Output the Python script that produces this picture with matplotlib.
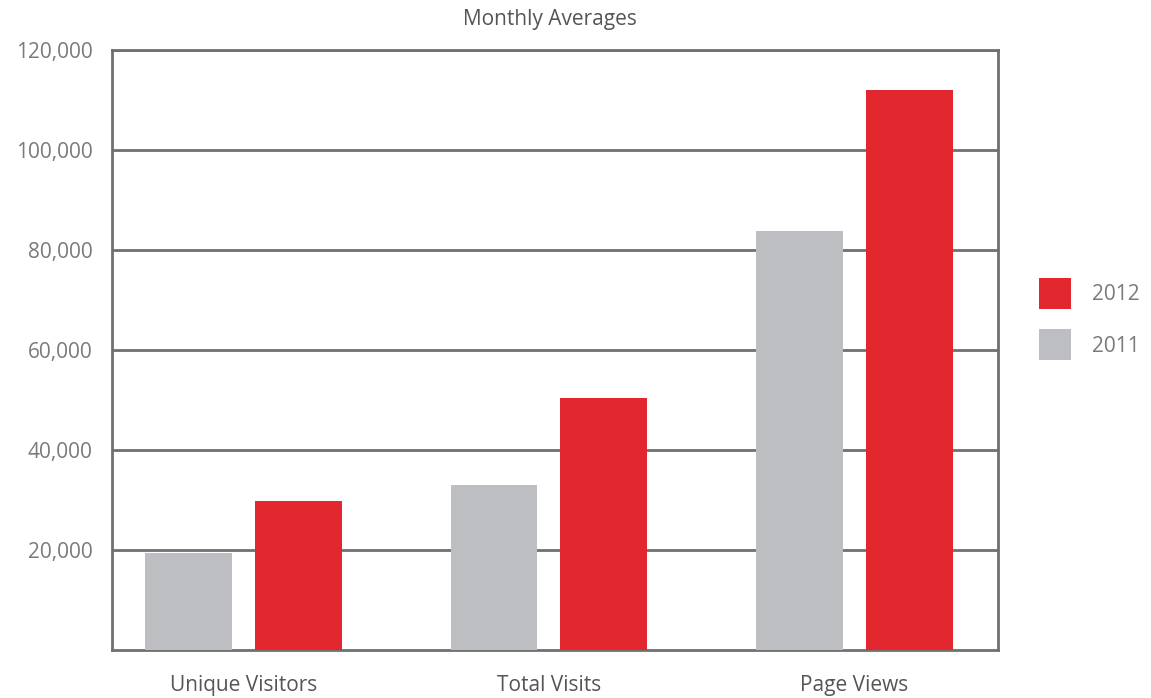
import matplotlib
matplotlib.use("Agg")
import matplotlib.pyplot as plt
import numpy as np
from matplotlib.patches import Patch

categories = ["Unique Visitors", "Total Visits", "Page Views"]
values_2011 = [19400, 33000, 83800]
values_2012 = [29800, 50400, 112000]
series_names = ["2011", "2012"]
yticks = [20000, 40000, 60000, 80000, 100000, 120000]
ytick_labels = ["20,000", "40,000", "60,000", "80,000", "100,000", "120,000"]

GRAY = "#BDBEC1"
RED = "#E2282E"
LINE = "#707070"
TEXT = "#7a7a7a"

plt.rcParams['font.family'] = ['Open Sans', 'DejaVu Sans']

fig = plt.figure(figsize=(11.51, 6.98), dpi=100)
ax = fig.add_axes([112/1151, 1 - 650/698, (998-112)/1151, (650-50)/698])

x = np.arange(len(categories))
w = 0.284
ax.bar(x - 0.18, values_2011, width=w, color=GRAY, zorder=3)
ax.bar(x + 0.18, values_2012, width=w, color=RED, zorder=3)

ax.set_xlim(-0.43, 2.47)
ax.set_ylim(0, 120000)
ax.set_yticks(yticks)
ax.set_yticklabels(ytick_labels)
ax.set_xticks(x)
ax.set_xticklabels(categories)
ax.tick_params(axis='both', length=0, labelsize=15, colors=TEXT)
ax.tick_params(axis='y', pad=14)
ax.tick_params(axis='x', pad=18)
for lab in ax.get_xticklabels():
    lab.set_color("#555555")

ax.grid(axis='y', color=LINE, linewidth=2, zorder=1)
for s in ax.spines.values():
    s.set_color(LINE)
    s.set_linewidth(2)

fig.text(550/1151, 1 - 20/698, "Monthly Averages", ha='center', va='center',
         fontsize=15, color="#555555")

handles = [Patch(facecolor=RED, edgecolor='none'), Patch(facecolor=GRAY, edgecolor='none')]
leg = fig.legend(handles, [series_names[1], series_names[0]], loc='center left',
                 bbox_to_anchor=(1022/1151, 1 - 319/698), frameon=False,
                 fontsize=15, handlelength=1.54, handleheight=1.9,
                 handletextpad=1.0, labelspacing=1.0, borderpad=0.3)
for t in leg.get_texts():
    t.set_color(TEXT)

fig.savefig("out.png", dpi=100)
